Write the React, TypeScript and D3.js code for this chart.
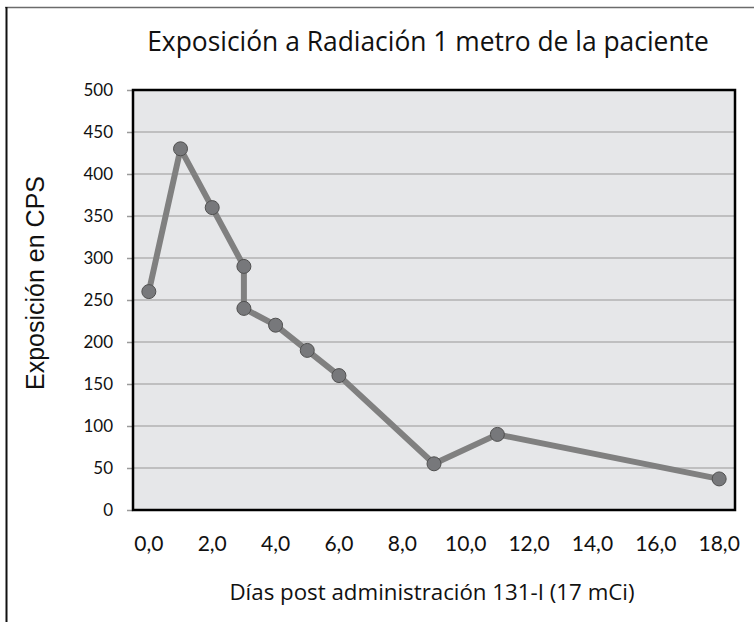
import React from 'react';
import { axisLeft, line, scaleLinear, select } from 'd3';

// days after dose and counts per second
const days = [0, 1, 2, 3, 3, 4, 5, 6, 9, 11, 18];
const cps = [260, 430, 360, 290, 240, 220, 190, 160, 55, 90, 37];
const xTicks = [0, 2, 4, 6, 8, 10, 12, 14, 16, 18];
const yTicks = [0, 50, 100, 150, 200, 250, 300, 350, 400, 450, 500];

const title = 'Exposición a Radiación 1 metro de la paciente';
const xTitle = 'Días post administración 131-I (17 mCi)';
const yTitle = 'Exposición en CPS';

const width = 754;
const height = 622;
const marginLeft = 133;
const marginTop = 90;
const innerWidth = 602;
const innerHeight = 420;

const App = () => {
    const svgRef = React.useRef<SVGSVGElement | null>(null);

    React.useEffect(() => {
        const svgEl = select(svgRef.current);
        svgEl.selectAll('*').remove();

        // outer frame, cropped on the right and bottom like the original
        svgEl.append('line')
            .attr('x1', 5).attr('x2', width).attr('y1', 7.5).attr('y2', 7.5)
            .attr('stroke', '#6b6b6b').attr('stroke-width', 1.5);
        svgEl.append('line')
            .attr('x1', 6.5).attr('x2', 6.5).attr('y1', 7).attr('y2', height)
            .attr('stroke', '#111').attr('stroke-width', 2);

        svgEl.append('text')
            .attr('x', 428)
            .attr('y', 51)
            .attr('text-anchor', 'middle')
            .attr('font-family', '"Open Sans", Lato, sans-serif')
            .attr('font-size', 26.4)
            .attr('fill', '#111')
            .text(title);

        const x = scaleLinear().domain([-0.5, 18.5]).range([0, innerWidth]);
        const y = scaleLinear().domain([0, 500]).range([innerHeight, 0]);

        const gEl = svgEl.append('g')
            .attr('transform', `translate(${marginLeft},${marginTop})`);

        gEl.append('rect')
            .attr('width', innerWidth)
            .attr('height', innerHeight)
            .attr('fill', '#e6e7e9');

        // grid
        gEl.selectAll('.grid')
            .data(yTicks.filter((d) => d > 0 && d < 500))
            .enter()
            .append('line')
            .attr('class', 'grid')
            .attr('x1', 0)
            .attr('x2', innerWidth)
            .attr('y1', (d) => y(d))
            .attr('y2', (d) => y(d))
            .attr('stroke', '#b2b2b2')
            .attr('stroke-width', 1.5);

        // Y Axis
        const yAxisGroup = gEl.append('g').call(
            axisLeft(y).tickValues(yTicks).tickSize(6).tickPadding(14).tickFormat((d) => `${d}`)
        );
        yAxisGroup.select('.domain').remove();
        yAxisGroup.selectAll('line')
            .attr('stroke', '#9a9a9a')
            .attr('stroke-width', 1.5);
        yAxisGroup.selectAll('text')
            .attr('font-family', 'Lato, "Open Sans", sans-serif')
            .attr('font-size', 17)
            .attr('fill', '#111');

        // X tick labels
        gEl.selectAll('.xlabel')
            .data(xTicks)
            .enter()
            .append('text')
            .attr('class', 'xlabel')
            .attr('x', (d) => x(d))
            .attr('y', innerHeight + 41)
            .attr('text-anchor', 'middle')
            .attr('font-family', 'Lato, "Open Sans", sans-serif')
            .attr('font-size', 21)
            .attr('fill', '#111')
            .text((d) => d.toFixed(1).replace('.', ','));

        gEl.append('rect')
            .attr('width', innerWidth)
            .attr('height', innerHeight)
            .attr('fill', 'none')
            .attr('stroke', '#000')
            .attr('stroke-width', 2.5);

        const points = days.map((d, i) => ({ x: d, y: cps[i] }));

        gEl.append('path')
            .datum(points)
            .attr('fill', 'none')
            .attr('stroke', '#808080')
            .attr('stroke-width', 6)
            .attr('stroke-linejoin', 'round')
            .attr('d', line<{ x: number; y: number }>()
                .x((d) => x(d.x))
                .y((d) => y(d.y)));

        gEl.selectAll('.dot')
            .data(points)
            .enter()
            .append('circle')
            .attr('class', 'dot')
            .attr('cx', (d) => x(d.x))
            .attr('cy', (d) => y(d.y))
            .attr('r', 7)
            .attr('fill', '#77787b')
            .attr('stroke', '#505050')
            .attr('stroke-width', 1);

        svgEl.append('text')
            .attr('x', 432)
            .attr('y', 600)
            .attr('text-anchor', 'middle')
            .attr('font-family', '"Open Sans", Lato, sans-serif')
            .attr('font-size', 22.3)
            .attr('fill', '#111')
            .text(xTitle);

        svgEl.append('text')
            .attr('transform', 'translate(44,283) rotate(-90)')
            .attr('text-anchor', 'middle')
            .attr('font-family', '"Liberation Sans", Arial, sans-serif')
            .attr('font-size', 25)
            .attr('fill', '#111')
            .text(yTitle);
    }, []);

    return (
        <svg
            ref={svgRef}
            width={width}
            height={height}
            style={{ position: 'absolute', left: 0, top: 0, background: '#fff' }}
        />
    );
};

export default App;
